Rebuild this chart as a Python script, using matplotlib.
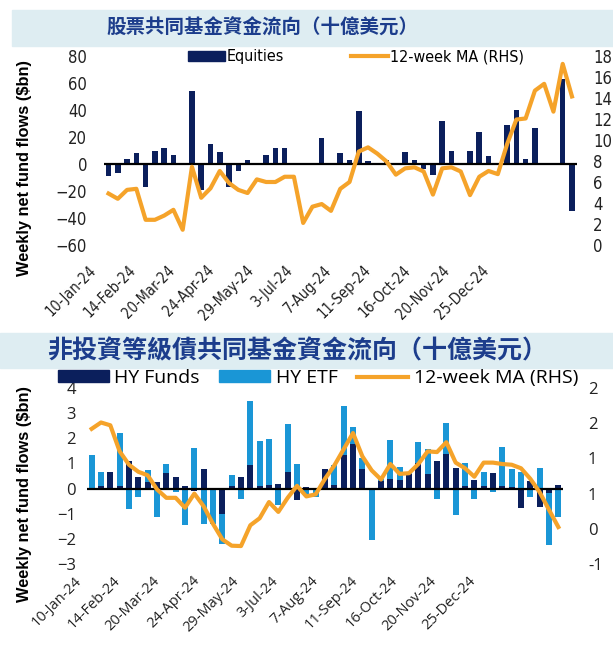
import numpy as np
import matplotlib
matplotlib.use("Agg")
import matplotlib.pyplot as plt
from matplotlib.patches import Rectangle, Patch
from matplotlib.lines import Line2D

# 週次データ (51 weeks)
equities = [-9, -7, 4, 8, -17, 10, 12, 7, 0, 54,
            -19, 15, 9, -17, -5, 3, -1, 7, 12, 12,
            0, 1, 0, 19, 1, 8, 3, 39, 2, 0,
            3, 0, 9, 3, -4, -8, 32, 10, 0, 10,
            24, 6, 0, 29, 40, 4, 27, 0, 0.5, 63, -35]
eq_ma = [4.9, 4.4, 5.25, 5.35, 2.4, 2.4, 2.8, 3.35, 1.45, 7.45,
         4.5, 5.4, 7.05, 5.9, 5.25, 4.95, 6.25, 6.0, 6.0, 6.5,
         6.5, 2.1, 3.65, 3.9, 3.25, 5.35, 6.0, 8.9, 9.3, 8.7,
         7.95, 6.7, 7.3, 7.4, 7.0, 4.8, 7.3, 7.4, 7.0, 4.75,
         6.5, 7.05, 6.75, 9.6, 11.95, 12.05, 14.7, 15.35, 12.7, 17.25, 14.15]

hy_funds = [0, 0.12, 0.64, 0.1, 1.08, 0.48, 0.25, 0.27, 0.6, 0.48,
            0.12, -0.08, 0.77, 0, -1.03, 0.12, 0.45, 0.92, 0.12, 0.16,
            0.2, 0.64, -0.45, 0.05, 0, 0.78, 0.16, 1.33, 1.77, 0.78,
            0, 0.3, 0.4, 0.34, 0.57, 1.03, 0.57, 1.08, 1.36, 0.82,
            0.12, 0.34, 0.1, 0.62, 0.12, 0.05, -0.79, 0.3, -0.75, -0.18, 0.16]
hy_etf = [1.32, 0.52, 0, 2.1, -0.8, -0.34, 0.5, -1.14, 0.39, -0.14,
          -1.44, 1.63, -1.41, -1.41, -1.17, 0.43, -0.41, 2.57, 1.76, 1.81,
          -0.66, 1.92, 0.99, -0.3, -0.34, 0, 0.76, 1.94, 0.66, 0.44,
          -2.03, 0.1, 1.54, 0.51, 0.05, 0.82, 1.0, -0.41, 1.25, -1.04,
          0.9, -0.41, 0.55, -0.15, 1.55, 0.71, 0.67, -0.34, 0.81, -2.05, -1.14]
hy_ma = [1.42, 1.51, 1.47, 1.10, 0.91, 0.81, 0.76, 0.56, 0.44, 0.44,
         0.30, 0.50, 0.32, 0.07, -0.15, -0.24, -0.245, 0.05, 0.15, 0.38,
         0.24, 0.44, 0.61, 0.46, 0.49, 0.71, 0.90, 1.13, 1.36, 1.03,
         0.83, 0.70, 0.92, 0.78, 0.79, 0.92, 1.10, 1.09, 1.23, 0.94,
         0.86, 0.74, 0.94, 0.94, 0.92, 0.91, 0.86, 0.71, 0.52, 0.27, 0.025]

date_labels = ["10-Jan-24", "14-Feb-24", "20-Mar-24", "24-Apr-24", "29-May-24", "3-Jul-24",
               "7-Aug-24", "11-Sep-24", "16-Oct-24", "20-Nov-24", "25-Dec-24"]

NAVY = "#0b1f5c"
LBLUE = "#1a96d6"
ORANGE = "#f5a32a"
TITLE_C = "#1c3d8c"
BAND = "#deedf2"

W, H = 613, 648
fig = plt.figure(figsize=(W / 100, H / 100), dpi=100)

def rect(l, t, r, b):
    return [l / W, 1 - b / H, (r - l) / W, (b - t) / H]

def date_axis(ax, start, step, drop, **kw):
    # 日付ラベルは元図のとおり棒とは少しずれた間隔で並ぶ
    ax.set_xticks([])
    for k, lab in enumerate(date_labels):
        ax.annotate(lab, xy=(start + step * k, 0), xycoords=("data", "axes fraction"),
                    xytext=(0, -drop), textcoords="offset points", rotation=45,
                    ha="right", va="center", rotation_mode="anchor",
                    annotation_clip=False, color="#222222", **kw)

x = np.arange(len(equities))

# ---- 上段: 股票 ----
fig.patches.append(Rectangle((12 / W, 1 - 46 / H), 1, 36 / H, transform=fig.transFigure,
                             color=BAND, zorder=0))
fig.text(262 / W, 1 - 28 / H, "股票共同基金資金流向（十億美元）", ha="center", va="center",
         fontsize=14, fontweight="bold", color=TITLE_C, family=["Noto Sans CJK TC", "DejaVu Sans"])

ax1 = fig.add_axes(rect(103.9, 56, 576.6, 245))
ax1.bar(x, equities, width=0.6, color=NAVY, zorder=2)
ax1.axhline(0, color="black", lw=1.6, zorder=3)
ax1.set_ylim(-60, 80)
ax1.set_yticks(np.arange(-60, 81, 20))
ax1b = ax1.twinx()
ax1b.plot(x, eq_ma, color=ORANGE, lw=3, zorder=4)
ax1b.set_ylim(0, 18)
ax1b.set_yticks(np.arange(0, 19, 2))
date_axis(ax1, -1.6, 4.24, 16.5, fontsize=10.5, family="DejaVu Sans", stretch="condensed")
ax1.set_xlim(-0.5, len(x) - 0.5)
for a in (ax1, ax1b):
    for s in a.spines.values():
        s.set_visible(False)
    a.tick_params(length=0, colors="#222222")
ax1.tick_params(axis="y", labelsize=12, pad=12)
ax1b.tick_params(axis="y", labelsize=12, pad=12)
for t in ax1.get_yticklabels() + ax1b.get_yticklabels():
    t.set_family("DejaVu Sans")
    t.set_stretch("condensed")

h1 = [Patch(color=NAVY), Line2D([], [], color=ORANGE, lw=3)]
fig.legend(h1, ["Equities", "12-week MA (RHS)"], ncol=2, loc="center",
           bbox_to_anchor=(356 / W, 1 - 57 / H), frameon=False, handlelength=2.3,
           handleheight=0.55, handletextpad=0.1, columnspacing=4.2,
           prop={"family": "DejaVu Sans", "stretch": "condensed", "size": 11.5})
fig.text(25 / W, 1 - 168 / H, "Weekly net fund flows ($bn)", rotation=90, ha="center", va="center",
         fontsize=11.8, fontweight="bold", family="Liberation Sans")

# ---- 下段: 非投資等級債 ----
fig.patches.append(Rectangle((0, 1 - 368 / H), 1, 35 / H, transform=fig.transFigure,
                             color=BAND, zorder=0))
fig.text(297 / W, 1 - 351 / H, "非投資等級債共同基金資金流向（十億美元）", ha="center", va="center",
         fontsize=18, fontweight="bold", color=TITLE_C, family=["Noto Sans CJK TC", "DejaVu Sans"])

osans = ["Open Sans", "DejaVu Sans"]
ax2 = fig.add_axes(rect(87, 388, 563, 564))
fpos = np.where(np.array(hy_funds) > 0, hy_funds, 0)
fneg = np.where(np.array(hy_funds) < 0, hy_funds, 0)
etf = np.array(hy_etf)
etf_base = np.where(etf >= 0, fpos, fneg)
ax2.bar(x, hy_funds, width=0.65, color=NAVY, zorder=2)
ax2.bar(x, etf, bottom=etf_base, width=0.65, color=LBLUE, zorder=2)
ax2.axhline(0, color="black", lw=1.6, zorder=3)
ax2.set_ylim(-3, 4)
ax2.set_yticks(np.arange(-3, 5, 1))
ax2b = ax2.twinx()
ax2b.plot(x, hy_ma, color=ORANGE, lw=3, zorder=4)
ax2b.set_ylim(-0.5, 2.0)
ax2b.set_yticks(np.arange(-0.5, 2.01, 0.5))
ax2b.set_yticklabels(["-1", "0", "1", "1", "2", "2"])
date_axis(ax2, -1.36, 4.23, 10.5, fontsize=10.5, family=osans)
ax2.set_xlim(-0.5, len(x) - 0.5)
for a in (ax2, ax2b):
    for s in a.spines.values():
        s.set_visible(False)
    a.tick_params(length=0, colors="#222222")
ax2.tick_params(axis="y", labelsize=12, pad=8)
ax2b.tick_params(axis="y", labelsize=12, pad=18)
for t in ax2.get_yticklabels() + ax2b.get_yticklabels():
    t.set_family(osans)

h2 = [Patch(color=NAVY), Patch(color=LBLUE), Line2D([], [], color=ORANGE, lw=3)]
fig.legend(h2, ["HY Funds", "HY ETF", "12-week MA (RHS)"], ncol=3, loc="center",
           bbox_to_anchor=(318 / W, 1 - 378 / H), frameon=False, handlelength=2.6,
           handleheight=0.55, handletextpad=0.3, columnspacing=1.0,
           prop={"family": osans, "size": 14})
fig.text(25 / W, 1 - 494 / H, "Weekly net fund flows ($bn)", rotation=90, ha="center", va="center",
         fontsize=11.8, fontweight="bold", family="Liberation Sans")

fig.savefig("out.png", dpi=100)
